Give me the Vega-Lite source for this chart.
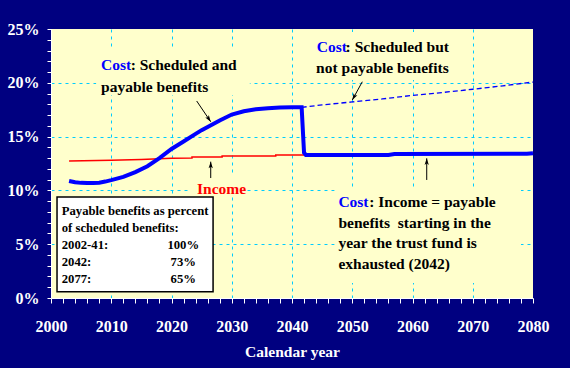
{
  "$schema": "https://vega.github.io/schema/vega-lite/v6.json",
  "autosize": {"type": "none"},
  "width": 482,
  "height": 269,
  "padding": {"left": 51, "top": 29, "right": 37, "bottom": 70},
  "background": "#000080",
  "config": {"view": {"fill": "#FFFFCC", "stroke": null}},
  "datasets": {
    "payable": [
      {"year": 2003, "pct": 10.87}, {"year": 2004, "pct": 10.75}, {"year": 2005, "pct": 10.7},
      {"year": 2006, "pct": 10.68}, {"year": 2007, "pct": 10.68}, {"year": 2008, "pct": 10.72},
      {"year": 2009, "pct": 10.82}, {"year": 2010, "pct": 10.95}, {"year": 2012, "pct": 11.25},
      {"year": 2014, "pct": 11.7}, {"year": 2016, "pct": 12.25}, {"year": 2018, "pct": 13.0},
      {"year": 2020, "pct": 13.85}, {"year": 2022, "pct": 14.55}, {"year": 2024, "pct": 15.25},
      {"year": 2025, "pct": 15.6}, {"year": 2026, "pct": 15.9}, {"year": 2028, "pct": 16.5},
      {"year": 2030, "pct": 17.05}, {"year": 2032, "pct": 17.35}, {"year": 2034, "pct": 17.55},
      {"year": 2036, "pct": 17.64}, {"year": 2038, "pct": 17.7}, {"year": 2040, "pct": 17.72},
      {"year": 2041.6, "pct": 17.72}, {"year": 2042, "pct": 13.5}, {"year": 2042.3, "pct": 13.3},
      {"year": 2056, "pct": 13.3}, {"year": 2057, "pct": 13.38}, {"year": 2079, "pct": 13.4},
      {"year": 2080, "pct": 13.45}
    ],
    "scheduled": [
      {"year": 2041.6, "pct": 17.72}, {"year": 2045, "pct": 17.95}, {"year": 2050, "pct": 18.22},
      {"year": 2055, "pct": 18.5}, {"year": 2060, "pct": 18.83}, {"year": 2065, "pct": 19.1},
      {"year": 2070, "pct": 19.4}, {"year": 2075, "pct": 19.72}, {"year": 2080, "pct": 20.07}
    ],
    "income": [
      {"year": 2003, "pct": 12.73}, {"year": 2010, "pct": 12.8}, {"year": 2015, "pct": 12.88},
      {"year": 2020, "pct": 12.98}, {"year": 2023.4, "pct": 13.02}, {"year": 2023.4, "pct": 13.1},
      {"year": 2028.4, "pct": 13.1}, {"year": 2028.4, "pct": 13.2}, {"year": 2037.3, "pct": 13.2},
      {"year": 2037.3, "pct": 13.29}, {"year": 2042, "pct": 13.3}
    ],
    "boxes": [
      {"year": 2007.5, "year2": 2033.0, "pct": 23.05, "pct2": 18.87},
      {"year": 2042.2, "year2": 2067.1, "pct": 24.72, "pct2": 20.26},
      {"year": 2023.1, "year2": 2032.5, "pct": 11.62, "pct2": 9.39},
      {"year": 2047.1, "year2": 2078.0, "pct": 10.22, "pct2": 1.39}
    ],
    "legendbox": [
      {"year": 2001.0, "year2": 2026.9, "pct": 9.39, "pct2": 0.59}
    ],
    "arrows": [
      {"id": "a1", "year": 2024.18, "pct": 18.31, "year2": 2026.51, "pct2": 16.38},
      {"id": "a2", "year": 2051.67, "pct": 20.1, "year2": 2050.01, "pct2": 18.4},
      {"id": "a3", "year": 2026.51, "pct": 11.15, "year2": 2026.51, "pct2": 12.67},
      {"id": "a4", "year": 2062.36, "pct": 10.97, "year2": 2062.36, "pct2": 12.98}
    ],
    "notes": [
      {"role": "cost", "year": 2008.3, "pct": 21.65, "text": "Cost"},
      {"role": "note", "year": 2013.23, "pct": 21.65, "text": ": Scheduled and"},
      {"role": "note", "year": 2008.3, "pct": 19.64, "text": "payable benefits"},
      {"role": "cost", "year": 2044.1, "pct": 23.36, "text": "Cost"},
      {"role": "note", "year": 2048.9, "pct": 23.36, "text": ": Scheduled but"},
      {"role": "note", "year": 2044.0, "pct": 21.35, "text": "not payable benefits"},
      {"role": "income", "year": 2024.23, "pct": 10.13, "text": "Income"},
      {"role": "cost", "year": 2047.7, "pct": 8.95, "text": "Cost"},
      {"role": "note", "year": 2052.83, "pct": 8.95, "text": ": Income = payable"},
      {"role": "note", "year": 2047.7, "pct": 7.0, "text": "benefits\u00a0 starting in the"},
      {"role": "note", "year": 2047.7, "pct": 5.08, "text": "year the trust fund is"},
      {"role": "note", "year": 2047.7, "pct": 3.16, "text": "exhausted (2042)"}
    ],
    "legendleft": [
      {"year": 2001.78, "pct": 8.09, "text": "Payable benefits as percent"},
      {"year": 2001.78, "pct": 6.48, "text": "of scheduled benefits:"},
      {"year": 2001.78, "pct": 4.93, "text": "2002-41:"},
      {"year": 2001.78, "pct": 3.32, "text": "2042:"},
      {"year": 2001.78, "pct": 1.74, "text": "2077:"}
    ],
    "legendright": [
      {"year": 2021.95, "pct": 4.93, "text": "100%"},
      {"year": 2021.95, "pct": 3.32, "text": "73%"},
      {"year": 2021.95, "pct": 1.74, "text": "65%"}
    ]
  },
  "encoding": {
    "x": {
      "field": "year", "type": "quantitative",
      "scale": {"domain": [2000, 2080], "nice": false, "zero": false},
      "axis": {
        "values": [2000,2002,2004,2006,2008,2010,2012,2014,2016,2018,2020,2022,2024,2026,2028,2030,2032,2034,2036,2038,2040,2042,2044,2046,2048,2050,2052,2054,2056,2058,2060,2062,2064,2066,2068,2070,2072,2074,2076,2078,2080],
        "labelExpr": "datum.value % 10 === 0 ? '' + datum.value : ''",
        "grid": true,
        "gridColor": "#00CCFF",
        "gridDash": [3, 4],
        "gridWidth": 1,
        "gridOpacity": {"condition": {"test": "datum.value % 10 === 0 && datum.value > 2000 && datum.value < 2080", "value": 1}, "value": 0},
        "domainColor": "white", "domainWidth": 1,
        "tickColor": "white", "tickSize": 5, "tickWidth": 1,
        "labelColor": "white", "labelFont": "Liberation Serif", "labelFontWeight": "bold", "labelFontSize": 16,
        "labelPadding": 15, "labelOverlap": false, "labelFlush": false,
        "title": "Calendar year", "titleColor": "white", "titleFont": "Liberation Serif", "titleFontWeight": "bold", "titleFontSize": 15.5, "titlePadding": 10
      }
    },
    "y": {
      "field": "pct", "type": "quantitative",
      "scale": {"domain": [0, 25], "nice": false, "zero": false},
      "axis": {
        "values": [0,1,2,3,4,5,6,7,8,9,10,11,12,13,14,15,16,17,18,19,20,21,22,23,24,25],
        "labelExpr": "datum.value % 5 === 0 ? datum.value + '%' : ''",
        "grid": true,
        "gridColor": "#00CCFF",
        "gridDash": [3, 4],
        "gridWidth": 1,
        "gridOpacity": {"condition": {"test": "datum.value % 5 === 0 && datum.value > 0 && datum.value < 25", "value": 1}, "value": 0},
        "domainColor": "white", "domainWidth": 1,
        "tickColor": "white", "tickSize": 4, "tickWidth": 1,
        "labelColor": "white", "labelFont": "Liberation Serif", "labelFontWeight": "bold", "labelFontSize": 16,
        "labelPadding": 8, "labelOverlap": false, "labelFlush": false,
        "title": null
      }
    }
  },
  "layer": [
    {
      "data": {"name": "boxes"},
      "mark": {"type": "rect", "fill": "#FFFFCC"},
      "encoding": {"x2": {"field": "year2"}, "y2": {"field": "pct2"}}
    },
    {
      "data": {"name": "legendbox"},
      "mark": {"type": "rect", "fill": "white", "stroke": "black", "strokeWidth": 1.5},
      "encoding": {"x2": {"field": "year2"}, "y2": {"field": "pct2"}}
    },
    {
      "data": {"name": "income"},
      "mark": {"type": "line", "color": "#FF0000", "strokeWidth": 1.5},
      "encoding": {"order": {"value": 0}}
    },
    {
      "data": {"name": "scheduled"},
      "mark": {"type": "line", "color": "#0000FF", "strokeWidth": 1.3, "strokeDash": [5, 3]},
      "encoding": {}
    },
    {
      "data": {"name": "payable"},
      "mark": {"type": "line", "color": "#0000FF", "strokeWidth": 4},
      "encoding": {}
    },
    {
      "data": {"name": "arrows"},
      "mark": {"type": "rule", "color": "black", "strokeWidth": 1},
      "encoding": {"x2": {"field": "year2"}, "y2": {"field": "pct2"}}
    },
    {
      "data": {"name": "arrows"},
      "transform": [{"filter": "datum.id == 'a1'"}],
      "mark": {"type": "point", "shape": "M0,0L0.55,1.7L0,1.3L-0.55,1.7Z", "size": 60, "filled": true, "color": "black", "opacity": 1, "angle": 146},
      "encoding": {"x": {"field": "year2", "type": "quantitative"}, "y": {"field": "pct2", "type": "quantitative"}}
    },
    {
      "data": {"name": "arrows"},
      "transform": [{"filter": "datum.id == 'a2'"}],
      "mark": {"type": "point", "shape": "M0,0L0.55,1.7L0,1.3L-0.55,1.7Z", "size": 60, "filled": true, "color": "black", "opacity": 1, "angle": 208.6},
      "encoding": {"x": {"field": "year2", "type": "quantitative"}, "y": {"field": "pct2", "type": "quantitative"}}
    },
    {
      "data": {"name": "arrows"},
      "transform": [{"filter": "datum.id == 'a3' || datum.id == 'a4'"}],
      "mark": {"type": "point", "shape": "M0,0L0.55,1.7L0,1.3L-0.55,1.7Z", "size": 60, "filled": true, "color": "black", "opacity": 1, "angle": 0},
      "encoding": {"x": {"field": "year2", "type": "quantitative"}, "y": {"field": "pct2", "type": "quantitative"}}
    },
    {
      "data": {"name": "notes"},
      "mark": {"type": "text", "align": "left", "baseline": "middle", "font": "Liberation Serif", "fontWeight": "bold", "fontSize": 15.5},
      "encoding": {
        "text": {"field": "text"},
        "color": {"field": "role", "type": "nominal", "scale": {"domain": ["cost", "note", "income"], "range": ["#0000FF", "#000000", "#FF0000"]}, "legend": null}
      }
    },
    {
      "data": {"name": "legendleft"},
      "mark": {"type": "text", "align": "left", "baseline": "middle", "font": "Liberation Serif", "fontWeight": "bold", "fontSize": 12.7, "color": "black"},
      "encoding": {"text": {"field": "text"}}
    },
    {
      "data": {"name": "legendright"},
      "mark": {"type": "text", "align": "center", "baseline": "middle", "font": "Liberation Serif", "fontWeight": "bold", "fontSize": 12.7, "color": "black"},
      "encoding": {"text": {"field": "text"}}
    }
  ]
}
